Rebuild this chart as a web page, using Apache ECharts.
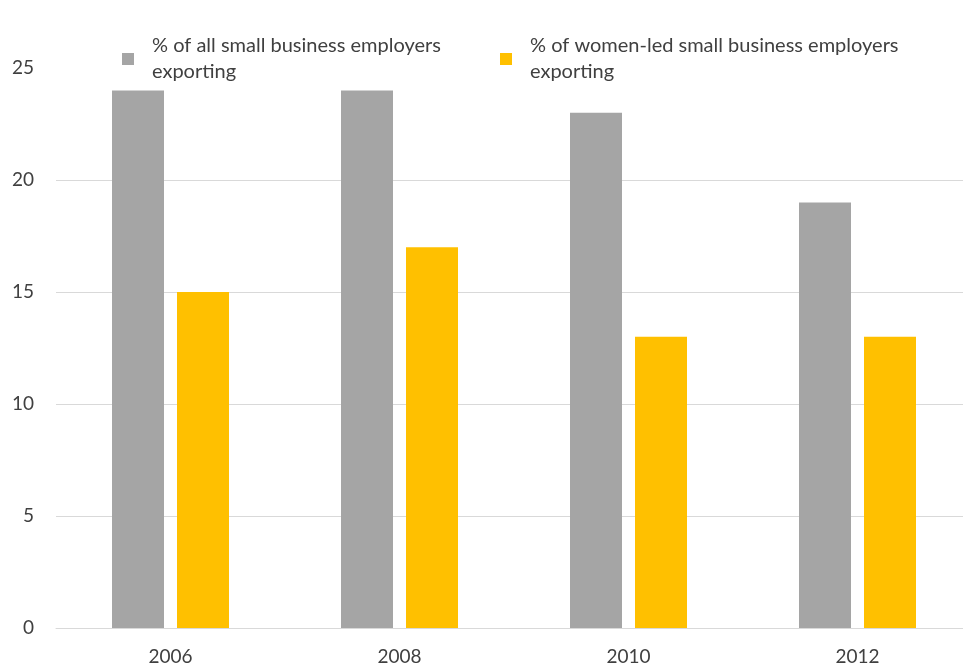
<!DOCTYPE html>
<html>
<head>
<meta charset="utf-8">
<script src="https://cdn.jsdelivr.net/npm/echarts@6/dist/echarts.min.js"></script>
<style>
  html, body { margin: 0; padding: 0; background: #fff; }
  #chart { width: 963px; height: 666px; }
</style>
</head>
<body>
<div id="chart"></div>
<script>
const years = ['2006', '2008', '2010', '2012']
const allEmployers = [24, 24, 23, 19]
const womenLed = [15, 17, 13, 13]
const seriesNames = [
  '% of all small business employers exporting',
  '% of women-led small business employers exporting'
]
const titleText = 'Women-Led Small Businesses by Exporting'

const chart = echarts.init(document.getElementById('chart'))
const font = 'Lato'
const textColor = '#404040'

// wrap legend names onto two lines like the original
const wrapName = name => name.replace(/ exporting$/, '\nexporting')

const legendBase = {
  orient: 'horizontal',
  top: 28,
  icon: 'rect',
  itemWidth: 12,
  itemHeight: 12,
  formatter: wrapName,
  textStyle: {
    fontFamily: font,
    fontSize: 20,
    lineHeight: 26,
    color: textColor,
    padding: [0, 0, 0, 13]
  }
}

const option = {
  animation: false,
  title: {
    text: titleText,
    left: 'center',
    top: -33,
    textStyle: {
      fontFamily: font,
      fontSize: 28,
      fontWeight: 'bold',
      color: textColor
    }
  },
  legend: [
    Object.assign({}, legendBase, { left: 117, data: [seriesNames[0]] }),
    Object.assign({}, legendBase, { left: 495, data: [seriesNames[1]] })
  ],
  grid: {
    left: 56,
    width: 916,
    top: 68,
    bottom: 38,
    containLabel: false,
    outerBoundsMode: 'none'
  },
  xAxis: {
    type: 'category',
    data: years,
    axisTick: { show: false },
    axisLine: { lineStyle: { color: '#d9d9d9', width: 1 } },
    axisLabel: {
      margin: 19,
      fontFamily: font,
      fontSize: 19,
      color: textColor
    }
  },
  yAxis: {
    type: 'value',
    min: 0,
    max: 25,
    interval: 5,
    axisLine: { show: false },
    axisTick: { show: false },
    splitLine: {
      showMaxLine: false,
      lineStyle: { color: '#d9d9d9', width: 1 }
    },
    axisLabel: {
      margin: 22,
      fontFamily: font,
      fontSize: 19,
      color: textColor
    }
  },
  series: [
    {
      name: seriesNames[0],
      type: 'bar',
      data: allEmployers,
      barWidth: 52,
      barGap: '25%',
      itemStyle: { color: '#a5a5a5' }
    },
    {
      name: seriesNames[1],
      type: 'bar',
      data: womenLed,
      barWidth: 52,
      itemStyle: { color: '#ffc000' }
    }
  ]
}

chart.setOption(option)
</script>
</body>
</html>
